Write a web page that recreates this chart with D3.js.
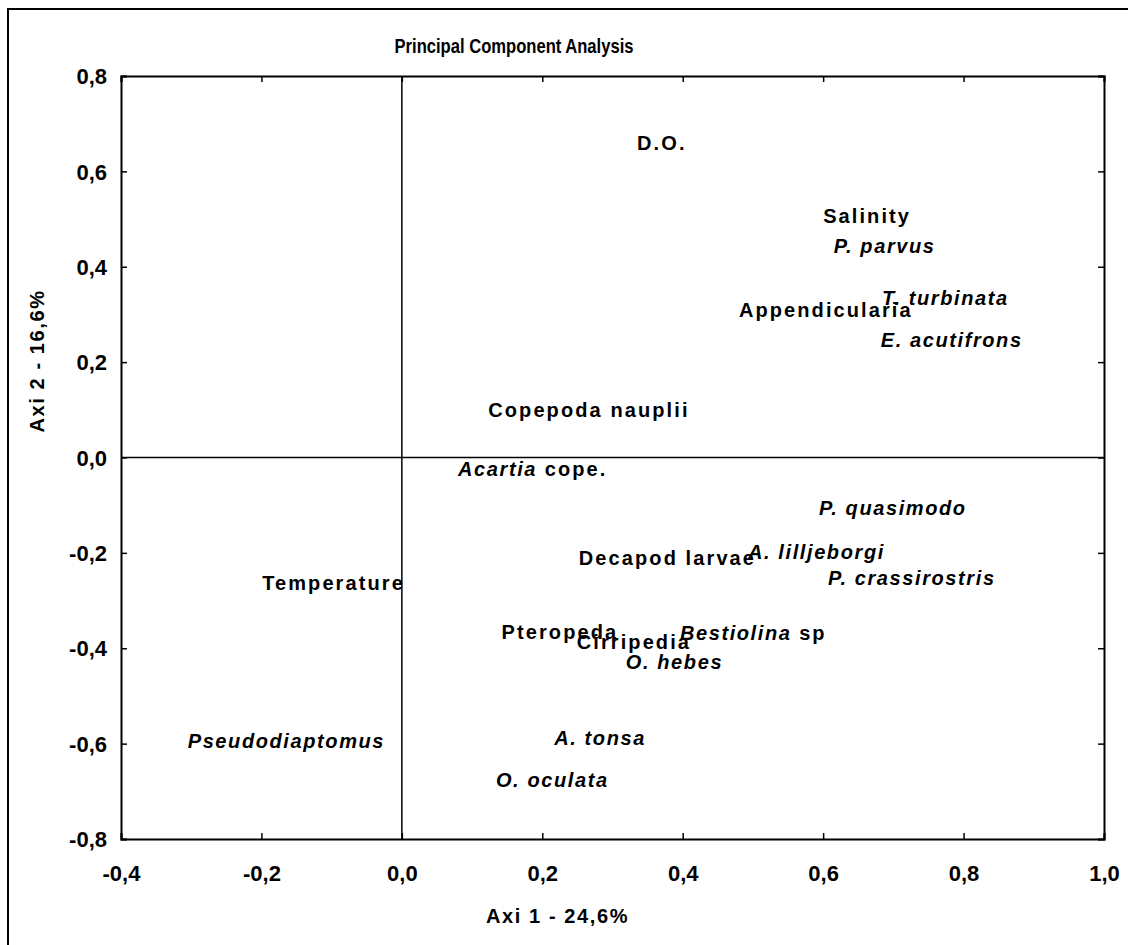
<!DOCTYPE html>
<html>
<head>
<meta charset="utf-8">
<script src="https://cdn.jsdelivr.net/npm/d3@7"></script>
<style>
  html, body { margin: 0; padding: 0; background: #fff; }
  svg { display: block; }
  text { fill: #000; }
</style>
</head>
<body>
<svg id="chart" width="1128" height="945"></svg>
<script>
// ---- data ----
const chartTitle = "Principal Component Analysis";
const xAxisTitle = "Axi 1 - 24,6%";
const yAxisTitle = "Axi 2 - 16,6%";
const xTicks = [-0.4, -0.2, 0.0, 0.2, 0.4, 0.6, 0.8, 1.0];
const yTicks = [-0.8, -0.6, -0.4, -0.2, 0.0, 0.2, 0.4, 0.6, 0.8];
const xTickLabels = ["-0,4", "-0,2", "0,0", "0,2", "0,4", "0,6", "0,8", "1,0"];
const yTickLabels = ["-0,8", "-0,6", "-0,4", "-0,2", "0,0", "0,2", "0,4", "0,6", "0,8"];

const variableNames = ["D.O.", "Salinity", "P. parvus", "T. turbinata", "Appendicularia", "E. acutifrons",
  "Copepoda nauplii", "Acartia cope.", "P. quasimodo", "Decapod larvae", "A. lilljeborgi", "Temperature",
  "P. crassirostris", "Pteropeda", "Cirripedia", "Bestiolina sp", "O. hebes", "Pseudodiaptomus",
  "A. tonsa", "O. oculata"];
// italic portion of each name ("" = none)
const italicParts = ["", "", "P. parvus", "T. turbinata", "", "E. acutifrons",
  "", "Acartia", "P. quasimodo", "", "A. lilljeborgi", "",
  "P. crassirostris", "", "", "Bestiolina", "O. hebes", "Pseudodiaptomus",
  "A. tonsa", "O. oculata"];
const pc1 = [0.335, 0.600, 0.615, 0.684, 0.480, 0.682, 0.123, 0.080, 0.594, 0.252, 0.493, -0.199,
  0.607, 0.142, 0.249, 0.396, 0.319, -0.305, 0.217, 0.134];
const pc2 = [0.659, 0.506, 0.443, 0.334, 0.309, 0.246, 0.100, -0.024, -0.106, -0.211, -0.198, -0.263,
  -0.253, -0.366, -0.387, -0.368, -0.429, -0.594, -0.588, -0.676];

// ---- layout ----
const svg = d3.select("#chart");
const mLeft = 121, mRight = 1104, mTop = 76, mBottom = 839;
const x = d3.scaleLinear().domain([-0.4, 1.0]).range([mLeft, mRight]);
const y = d3.scaleLinear().domain([-0.8, 0.8]).range([mBottom, mTop]);
const FONT = "'Liberation Sans', Arial, sans-serif";

// outer border
svg.append("rect").attr("x", 8).attr("y", 9).attr("width", 1300).attr("height", 1100)
  .attr("fill", "none").attr("stroke", "#000").attr("stroke-width", 2);

// title (condensed)
svg.append("text").attr("transform", "translate(514,53) scale(0.83,1)").attr("text-anchor", "middle")
  .style("font-family", FONT).style("font-weight", "bold").style("font-size", "20px")
  .text(chartTitle);

// zero lines
svg.append("line").attr("x1", x(0)).attr("x2", x(0)).attr("y1", mTop).attr("y2", mBottom)
  .attr("stroke", "#000").attr("stroke-width", 1.5);
svg.append("line").attr("x1", mLeft).attr("x2", mRight).attr("y1", y(0)).attr("y2", y(0))
  .attr("stroke", "#000").attr("stroke-width", 1.5);

// axes (ticks inside)
const tickFmtX = (d, i) => xTickLabels[i];
const tickFmtY = (d, i) => yTickLabels[i];
const gB = svg.append("g").attr("transform", `translate(0,${mBottom})`)
  .call(d3.axisBottom(x).tickValues(xTicks).tickSize(-6).tickPadding(22).tickFormat(tickFmtX));
const gT = svg.append("g").attr("transform", `translate(0,${mTop})`)
  .call(d3.axisTop(x).tickValues(xTicks).tickSize(-6).tickFormat(""));
const gL = svg.append("g").attr("transform", `translate(${mLeft},0)`)
  .call(d3.axisLeft(y).tickValues(yTicks).tickSize(-6).tickPadding(14).tickFormat(tickFmtY));
const gR = svg.append("g").attr("transform", `translate(${mRight},0)`)
  .call(d3.axisRight(y).tickValues(yTicks).tickSize(-6).tickFormat(""));
[gB, gT, gL, gR].forEach(g => {
  g.select(".domain").attr("stroke", "#000").attr("stroke-width", 2);
  g.selectAll(".tick line").attr("stroke", "#000").attr("stroke-width", 1.5);
  g.selectAll(".tick text").style("font-family", FONT).style("font-weight", "bold")
    .style("font-size", "22px").attr("fill", "#000");
});
gB.selectAll(".tick text").attr("dy", "0.9em");
gL.selectAll(".tick text").attr("dy", "0.35em").attr("x", -14);

// axis titles
svg.append("text").attr("x", 557.5).attr("y", 923).attr("text-anchor", "middle")
  .style("font-family", FONT).style("font-weight", "bold").style("font-size", "20px")
  .style("letter-spacing", "1.6px").text(xAxisTitle);
svg.append("text").attr("transform", "translate(44,361) rotate(-90)").attr("text-anchor", "middle")
  .style("font-family", FONT).style("font-weight", "bold").style("font-size", "20px")
  .style("letter-spacing", "1.6px").text(yAxisTitle);

// point labels
const pts = variableNames.map((n, i) => ({ name: n, it: italicParts[i], px: pc1[i], py: pc2[i] }));
const lab = svg.append("g").selectAll("text").data(pts).join("text")
  .attr("x", d => x(d.px)).attr("y", d => y(d.py)).attr("dy", "0.36em")
  .style("font-family", FONT).style("font-weight", "bold").style("font-size", "20px")
  .style("letter-spacing", "2.1px");
lab.each(function(d) {
  const t = d3.select(this);
  if (!d.it) { t.append("tspan").text(d.name); return; }
  const idx = d.name.indexOf(d.it);
  const before = d.name.slice(0, idx), after = d.name.slice(idx + d.it.length);
  if (before) t.append("tspan").text(before);
  t.append("tspan").style("font-style", "italic").style("letter-spacing", "1.6px").text(d.it);
  if (after) t.append("tspan").text(after);
});
</script>
</body>
</html>
